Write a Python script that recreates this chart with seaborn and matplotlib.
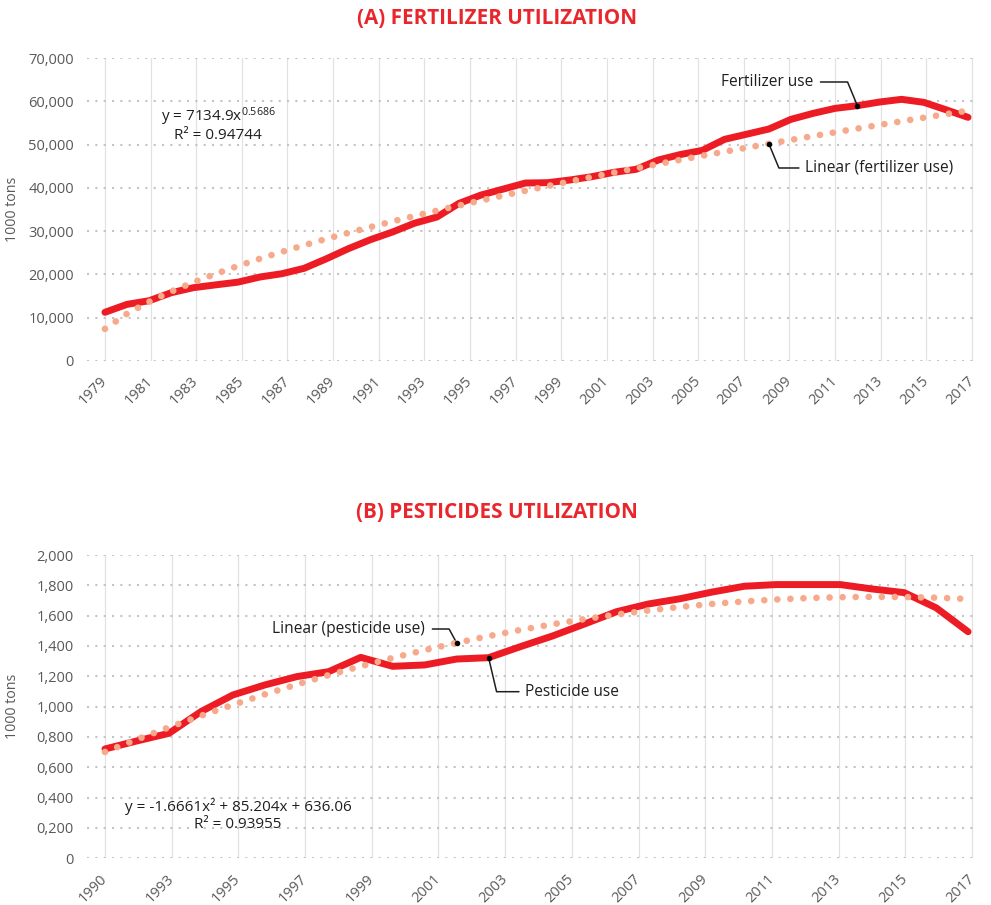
import numpy as np
import pandas as pd
import matplotlib
matplotlib.use("Agg")
import matplotlib.pyplot as plt
import matplotlib.transforms as mtransforms
import seaborn as sns

# ---------------- data ----------------
fert_use = [11250, 13090, 13930, 15780, 16940, 17590, 18210, 19400, 20170, 21410,
            23600, 25950, 28030, 29810, 31850, 33260, 36420, 38350, 39720, 41120,
            41200, 41810, 42580, 43590, 44280, 46430, 47700, 48670, 51210, 52400,
            53590, 55830, 57210, 58370, 58980, 59830, 60450, 59760, 58050, 56290]
fert_tick_labels = [str(y) for y in range(1979, 2018, 2)]
fert_y_ticks = [0, 10000, 20000, 30000, 40000, 50000, 60000, 70000]
fert_y_labels = ["0", "10,000", "20,000", "30,000", "40,000", "50,000", "60,000", "70,000"]

pest_use = [721, 774, 824, 967, 1077, 1143, 1198, 1231, 1325, 1266,
            1275, 1314, 1323, 1396, 1466, 1545, 1626, 1677, 1712, 1756,
            1794, 1805, 1805, 1805, 1776, 1752, 1652, 1494]
pest_tick_labels = ["1990", "1993", "1995", "1997", "1999", "2001", "2003",
                    "2005", "2007", "2009", "2011", "2013", "2015", "2017"]
pest_y_ticks = [0, 200, 400, 600, 800, 1000, 1200, 1400, 1600, 1800, 2000]
pest_y_labels = ["0", "0,200", "0,400", "0,600", "0,800", "1,000", "1,200",
                 "1,400", "1,600", "1,800", "2,000"]

fert_title = "(A) FERTILIZER UTILIZATION"
pest_title = "(B) PESTICIDES UTILIZATION"
fert_eq = ["y = 7134.9x$^{0.5686}$", "R² = 0.94744"]
pest_eq = ["y = -1.6661x² + 85.204x + 636.06", "R² = 0.93955"]
y_label = "1000 tons"

# ---------------- style ----------------
sns.set_style("white")
plt.rcParams["font.family"] = ["Open Sans", "DejaVu Sans"]
plt.rcParams["mathtext.fontset"] = "custom"
plt.rcParams["mathtext.rm"] = "Open Sans"
plt.rcParams["mathtext.it"] = "Open Sans:italic"
plt.rcParams["mathtext.bf"] = "Open Sans:bold"

RED = "#ED1C24"
SALMON = "#F7A98C"
TITLE_RED = "#E8262C"
TICK_GRAY = "#595959"
TEXT = "#1E1E1E"

W, H = 991, 905
fig = plt.figure(figsize=(W / 100, H / 100), dpi=100)
fig.patch.set_facecolor("white")


def px_axes(left, top, right, bottom):
    return fig.add_axes([left / W, 1 - bottom / H, (right - left) / W, (bottom - top) / H])


def build_panel(ax, values, fit, tick_labels, yticks, ylabels, ylim, xlim):
    n = len(values)
    idx = np.arange(n)
    x1 = idx + 1.0
    y = np.asarray(values, dtype=float)
    if fit == "power":
        b, ln_a = np.polyfit(np.log(x1), np.log(y), 1)
        trend = np.exp(ln_a) * x1 ** b
    else:
        coef = np.polyfit(x1, y, 2)
        trend = np.polyval(coef, x1)
    df = pd.DataFrame({"idx": idx, "value": y, "trend": trend})

    sns.lineplot(data=df, x="idx", y="value", ax=ax, color=RED, linewidth=5.0,
                 solid_joinstyle="round", solid_capstyle="round", zorder=3)
    sns.lineplot(data=df, x="idx", y="trend", ax=ax, color=SALMON, linewidth=4.8, zorder=4)
    tl = ax.lines[-1]
    tl.set_linestyle((0, (0.01, 1.95)))
    tl.set_dash_capstyle("round")

    ax.set_xlim(*xlim)
    ax.set_ylim(*ylim)
    tick_pos = np.linspace(0, (n - 1) * 1.0046, len(tick_labels))
    ax.set_xticks(tick_pos)
    ax.set_xticklabels(tick_labels, rotation=45, ha="right", va="center",
                       rotation_mode="anchor", color=TICK_GRAY, fontsize=10.5)
    off = mtransforms.ScaledTranslation(4 / 100, 0, fig.dpi_scale_trans)
    for lab in ax.get_xticklabels():
        lab.set_transform(lab.get_transform() + off)
    ax.set_yticks(yticks)
    ax.set_yticklabels(ylabels, color=TICK_GRAY, fontsize=10.5)
    ax.tick_params(axis="x", length=0, pad=13)
    ax.tick_params(axis="y", length=0, pad=9.5)
    for s in ax.spines.values():
        s.set_visible(False)
    ax.grid(True, axis="y", linestyle=(0, (1, 3)), linewidth=1.5, color="#C4C4C4")
    ax.grid(True, axis="x", linestyle="-", linewidth=0.9, color="#E2E2E2")
    ax.set_axisbelow(True)
    ax.set_xlabel("")
    ax.set_ylabel(y_label, color=TICK_GRAY, fontsize=10.3)
    ax.yaxis.set_label_coords(-0.0755, 0.5)
    return df


# ---------------- panel A ----------------
axA = px_axes(87, 58, 978, 361)
dfA = build_panel(axA, fert_use, "power", fert_tick_labels, fert_y_ticks, fert_y_labels,
                  (0, 70000), (-0.81, 39.45))
fig.text(497 / W, 1 - 19 / H, fert_title, ha="center", va="center",
         color=TITLE_RED, fontsize=14.9, fontweight="bold")
axA.text(0.147, 0.806, fert_eq[0], transform=axA.transAxes, ha="center", va="center",
         fontsize=11, color=TEXT)
axA.text(0.147, 0.7436, fert_eq[1], transform=axA.transAxes, ha="center", va="center",
         fontsize=11, color=TEXT)

iA = 34
axA.annotate("Fertilizer use", xy=(iA, dfA["value"][iA]), xycoords="data",
             xytext=(0.8148, 0.9208), textcoords="axes fraction",
             ha="right", va="center", fontsize=11.2, color=TEXT,
             arrowprops=dict(arrowstyle="-", color=TEXT, lw=1.1, relpos=(1, 0.5),
                             shrinkA=3, shrinkB=0,
                             connectionstyle="angle,angleA=0,angleB=-67.5,rad=0"))
axA.scatter([iA], [dfA["value"][iA]], s=16, color="black", zorder=6, linewidths=0)
iT = 30
axA.annotate("Linear (fertilizer use)", xy=(iT, dfA["trend"][iT]), xycoords="data",
             xytext=(0.8058, 0.637), textcoords="axes fraction",
             ha="left", va="center", fontsize=11.2, color=TEXT,
             arrowprops=dict(arrowstyle="-", color=TEXT, lw=1.1, relpos=(0, 0.5),
                             shrinkA=2, shrinkB=0,
                             connectionstyle="angle,angleA=0,angleB=-67.5,rad=0"))
axA.scatter([iT], [dfA["trend"][iT]], s=16, color="black", zorder=6, linewidths=0)

# ---------------- panel B ----------------
axB = px_axes(87, 555, 978, 858.3)
dfB = build_panel(axB, pest_use, "poly", pest_tick_labels, pest_y_ticks, pest_y_labels,
                  (0, 2000), (-0.563, 27.31))
fig.text(497 / W, 1 - 512 / H, pest_title, ha="center", va="center",
         color=TITLE_RED, fontsize=14.9, fontweight="bold")
axB.text(0.1695, 0.1705, pest_eq[0], transform=axB.transAxes, ha="center", va="center",
         fontsize=11, color=TEXT)
axB.text(0.1695, 0.1124, pest_eq[1], transform=axB.transAxes, ha="center", va="center",
         fontsize=11, color=TEXT)

jT = 11
axB.annotate("Linear (pesticide use)", xy=(jT, dfB["trend"][jT]), xycoords="data",
             xytext=(0.3793, 0.756), textcoords="axes fraction",
             ha="right", va="center", fontsize=11.2, color=TEXT,
             arrowprops=dict(arrowstyle="-", color=TEXT, lw=1.1, relpos=(1, 0.5),
                             shrinkA=3, shrinkB=0,
                             connectionstyle="angle,angleA=0,angleB=-61.5,rad=0"))
axB.scatter([jT], [dfB["trend"][jT]], s=16, color="black", zorder=6, linewidths=0)
jP = 12
axB.annotate("Pesticide use", xy=(jP, dfB["value"][jP]), xycoords="data",
             xytext=(0.4916, 0.5493), textcoords="axes fraction",
             ha="left", va="center", fontsize=11.2, color=TEXT,
             arrowprops=dict(arrowstyle="-", color=TEXT, lw=1.1, relpos=(0, 0.5),
                             shrinkA=2, shrinkB=0,
                             connectionstyle="angle,angleA=0,angleB=-76.8,rad=0"))
axB.scatter([jP], [dfB["value"][jP]], s=16, color="black", zorder=6, linewidths=0)

fig.savefig("out.png", dpi=100, facecolor="white")
